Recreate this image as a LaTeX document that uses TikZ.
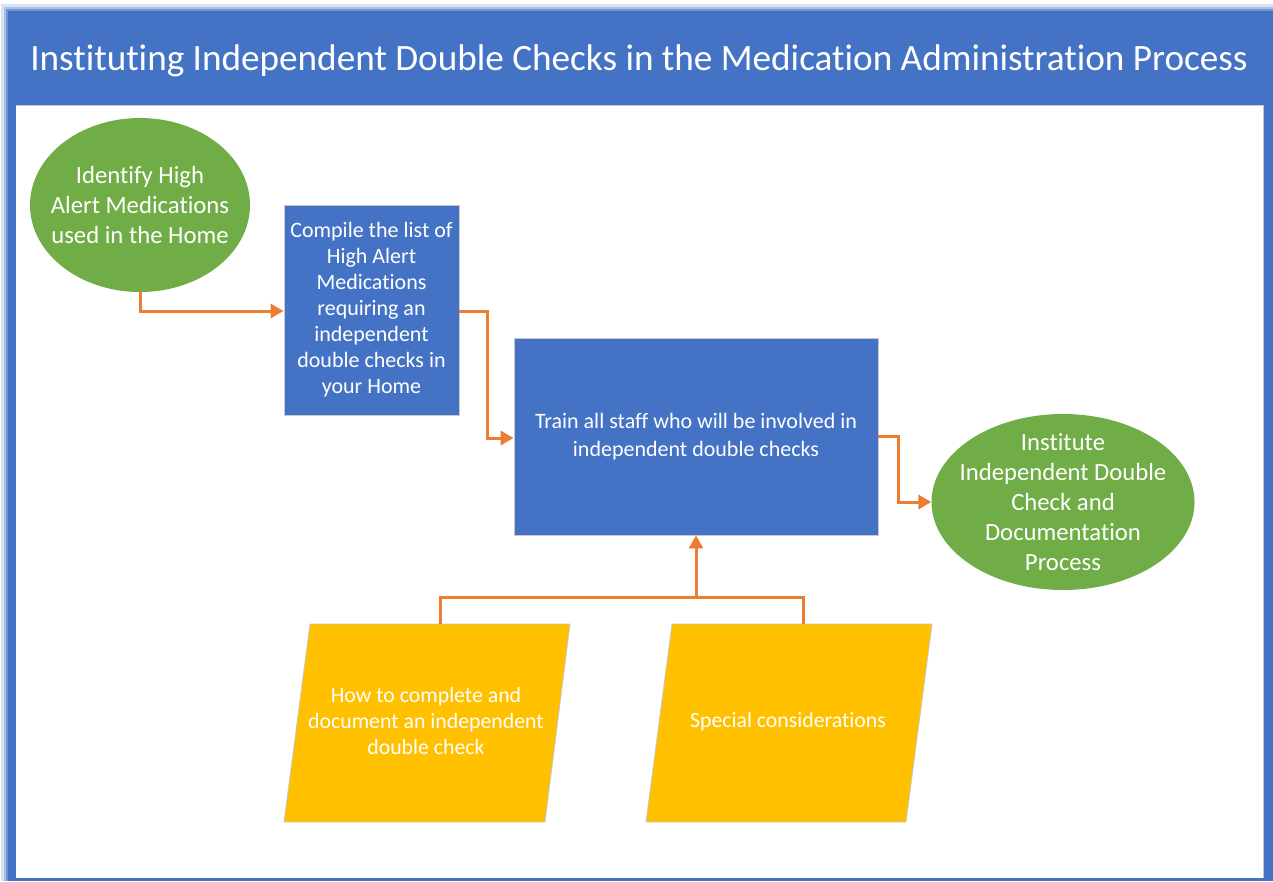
\documentclass[tikz,border=0pt]{standalone}
\usepackage{fontspec}
\setmainfont{Carlito}[Ligatures=NoCommon]
\usetikzlibrary{shapes.geometric,arrows.meta}
\definecolor{ofblue}{HTML}{4472C4}
\definecolor{ofgreen}{HTML}{70AD47}
\definecolor{oforange}{HTML}{ED7D31}
\definecolor{ofyellow}{HTML}{FFC000}
\definecolor{edgegray}{HTML}{C8C8C8}
\tikzset{
  oval/.style={ellipse, fill=ofgreen, inner sep=0pt},
  ovaltext/.style={text=white, inner sep=0pt, align=center,
    font=\fontsize{24.7}{30}\selectfont},
  bluebox/.style={rectangle, fill=ofblue, draw=edgegray, line width=0.8pt, text=white, inner sep=0pt, align=center,
    font=\fontsize{22}{26}\selectfont},
  slanted/.style={fill=ofyellow, draw=edgegray, line width=0.8pt},
  slanttext/.style={text=white, align=center, font=\fontsize{21.8}{26}\selectfont},
  flow/.style={draw=oforange, line width=3pt, -{Triangle[length=13pt,width=14pt]}},
  flowplain/.style={draw=oforange, line width=3pt}
}
\begin{document}
\begin{tikzpicture}[x=1pt,y=-1pt]
\useasboundingbox (0,0) rectangle (1273,881);
% soft shadow of the frame
\fill[ofblue!20] (1,4) rectangle (1273,881);
\fill[ofblue!45] (4,7) rectangle (1273,881);
\fill[ofblue!75] (6,9) rectangle (1273,881);
% frame and header
\fill[ofblue] (8,11) rectangle (1273,881);
\fill[white] (16,105) rectangle (1263,878);
\draw[edgegray, line width=0.8pt] (16,105) -- (1263,105) -- (1263,878);
\node[text=white, font=\fontsize{37.2}{44}\selectfont] (title) at (639,61) {Instituting Independent Double Checks in the Medication Administration Process};

% nodes
\node[oval, minimum width=220pt, minimum height=174pt] (identify) at (140,205) {};
\node[ovaltext] (identifytext) at (identify) {Identify High\\Alert Medications\\used in the Home};
\node[bluebox, minimum width=175pt, minimum height=210pt] (compile) at (371.5,310) {Compile the list of\\High Alert\\Medications\\requiring an\\independent\\double checks in\\your Home};
\node[bluebox, minimum width=364pt, minimum height=197pt, font=\fontsize{22}{28}\selectfont] (train) at (696,436.5) {Train all staff who will be involved in\\independent double checks};
\node[oval, minimum width=263pt, minimum height=176pt] (institute) at (1063,502) {};
\node[ovaltext] (institutetext) at (institute) {Institute\\Independent Double\\Check and\\Documentation\\Process};

% parallelograms
\filldraw[slanted] (310,624) -- (570,624) -- (545,822) -- (284,822) -- cycle;
\filldraw[slanted] (672,624) -- (932,624) -- (906,822) -- (646,822) -- cycle;
\node[slanttext] (howto) at (426,721) {How to complete and\\document an independent\\double check};
\node[slanttext] (special) at (788,722) {Special considerations};
\coordinate (howtotop) at (440,624);
\coordinate (specialtop) at (803,624);
\coordinate (join) at (696,597);

% connectors
\draw[flow] (identify.south) |- (compile.west |- 0,311);
\draw[flow] (compile.east |- 0,311) -- (487,311) |- (train.west |- 0,438);
\draw[flow] (train.east) -- (898,436.5) |- (institute.west);
\draw[flowplain] (howtotop) |- (join) -| (specialtop);
\draw[flow] (join) -- (train.south);
\end{tikzpicture}
\end{document}
